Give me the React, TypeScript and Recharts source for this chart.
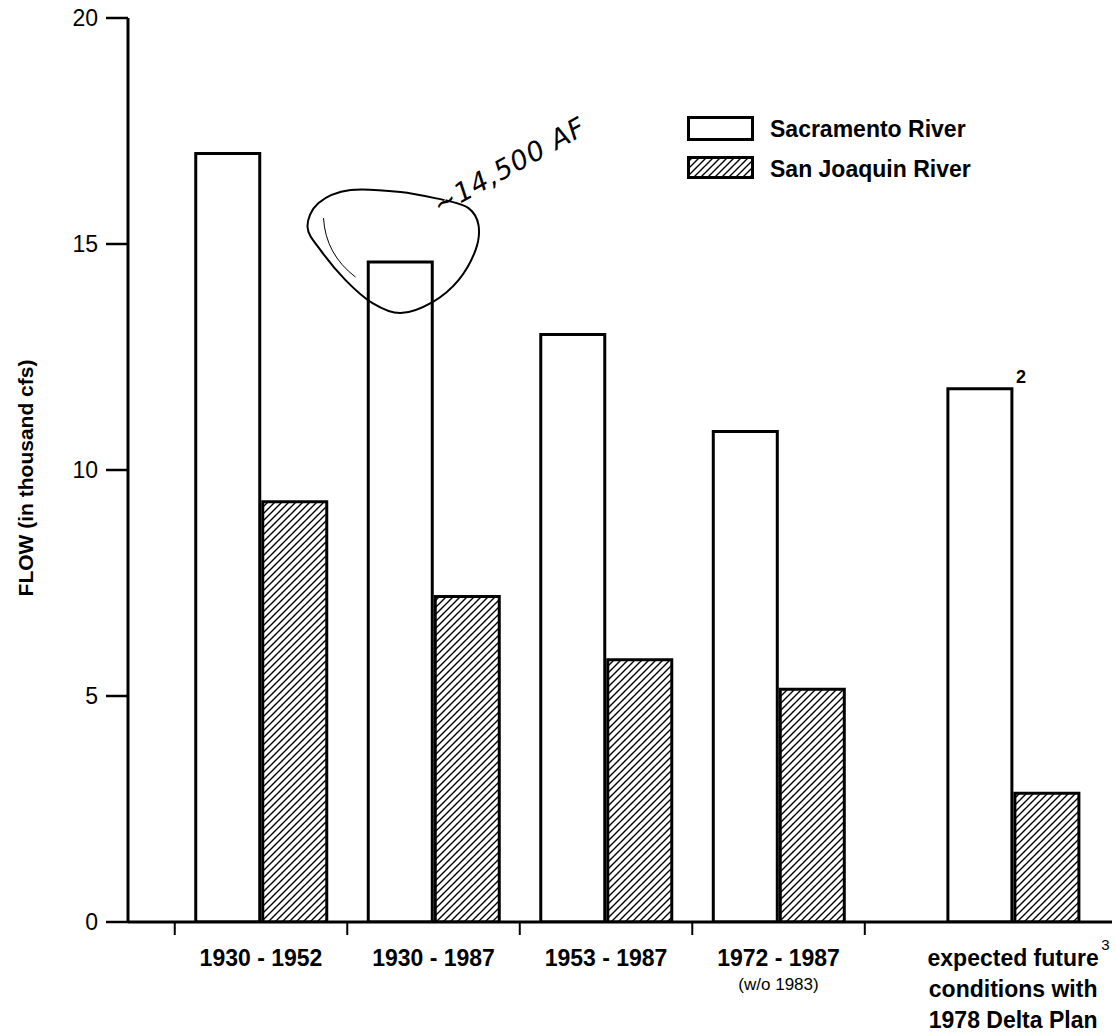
import {
  BarChart,
  Bar,
  XAxis,
  YAxis,
  Legend,
  LabelList,
  ReferenceDot,
  Label,
} from "recharts";

// periods on the x axis (multi-line labels)
const periodLines = [
  ["1930 - 1952"],
  ["1930 - 1987"],
  ["1953 - 1987"],
  ["1972 - 1987", "(w/o 1983)"],
  ["expected future", "conditions with", "1978 Delta Plan"],
];
// numeric slot of each period on the x axis (last group sits a bit further right)
const periodSlots = [1, 2, 3, 4, 5.36];
const periodBounds = [0.5, 1.5, 2.5, 3.5, 4.5];
const xDomain = [0.229, 5.933];

const sacramento = [17.0, 14.6, 13.0, 10.85, 11.8];
const sanJoaquin = [9.3, 7.2, 5.8, 5.15, 2.85];
const sacramentoNotes = ["", "", "", "", "2"];
const periodNotes = ["", "", "", "", "3"];

const yTicks = [0, 5, 10, 15, 20];
const seriesNames = ["Sacramento River", "San Joaquin River"];
const handNote = "~14,500 AF";

const FONT = "'Liberation Sans', Arial, Helvetica, sans-serif";

const data = periodSlots.map((slot, i) => ({
  slot,
  sacramento: sacramento[i],
  sanJoaquin: sanJoaquin[i],
}));

const PeriodTick = (props: any) => {
  const { x, y, payload } = props;
  const i = periodSlots.indexOf(payload.value);
  if (i < 0) return <g />;
  const lines = periodLines[i];
  return (
    <g>
      {lines.map((line, k) => {
        const small = line.startsWith("(");
        return (
          <text
            key={k}
            x={x}
            y={y + 30 + k * 31 - (small ? 7 : 0)}
            textAnchor="middle"
            fontFamily={FONT}
            fontWeight={small ? "normal" : "bold"}
            fontSize={small ? 17 : 23}
            fill="#000">
            {line}
          </text>
        );
      })}
      {periodNotes[i] && (
        <text
          x={x + 88}
          y={y + 14}
          fontFamily={FONT}
          fontSize={15}
          fill="#000">
          {periodNotes[i]}
        </text>
      )}
    </g>
  );
};

const SacNote = (props: any) => {
  const { x, y, width, index } = props;
  const note = sacramentoNotes[index];
  if (!note) return null;
  return (
    <text
      x={x + width + 4}
      y={y - 6}
      fontFamily={FONT}
      fontWeight="bold"
      fontSize={18}
      fill="#000">
      {note}
    </text>
  );
};

const YTitle = (props: any) => {
  const { viewBox } = props;
  const cx = viewBox.x + 25;
  const cy = viewBox.y + viewBox.height / 2 + 8;
  return (
    <text
      x={cx}
      y={cy}
      transform={`rotate(-90 ${cx} ${cy})`}
      textAnchor="middle"
      dominantBaseline="central"
      fontFamily={FONT}
      fontWeight="bold"
      fontSize={21}
      fill="#000">
      FLOW (in thousand cfs)
    </text>
  );
};

// smooth path through the handwritten loop points
const loopPoints = [
  [11, -62], [-33, -70], [-83, -72], [-115, -59], [-126, -35], [-113, -12],
  [-88, 18], [-61, 41], [-33, 51], [-1, 40], [25, 18], [42, -12],
  [45, -37], [35, -54], [12, -62],
];
const smoothPath = (pts: number[][], ox: number, oy: number) => {
  let d = `M${ox + pts[0][0]},${oy + pts[0][1]}`;
  for (let i = 0; i < pts.length - 1; i++) {
    const p0 = pts[Math.max(0, i - 1)];
    const p1 = pts[i];
    const p2 = pts[i + 1];
    const p3 = pts[Math.min(pts.length - 1, i + 2)];
    const c1x = p1[0] + (p2[0] - p0[0]) / 6;
    const c1y = p1[1] + (p2[1] - p0[1]) / 6;
    const c2x = p2[0] - (p3[0] - p1[0]) / 6;
    const c2y = p2[1] - (p3[1] - p1[1]) / 6;
    d += ` C${ox + c1x},${oy + c1y} ${ox + c2x},${oy + c2y} ${ox + p2[0]},${oy + p2[1]}`;
  }
  return d;
};

const HandNote = (props: any) => {
  const { cx, cy } = props;
  if (cx == null || cy == null) return null;
  const tx = cx + 6;
  const ty = cy - 47;
  return (
    <g>
      <path
        d={smoothPath(loopPoints, cx, cy)}
        fill="none"
        stroke="#000"
        strokeWidth={2}
      />
      <path
        d={`M${cx - 110},${cy - 44} Q${cx - 108},${cy - 8} ${cx - 78},${cy + 15}`}
        fill="none"
        stroke="#000"
        strokeWidth={1}
      />
      <text
        x={tx}
        y={ty}
        transform={`rotate(-29 ${tx} ${ty})`}
        fontFamily="'DejaVu Sans', sans-serif"
        fontStyle="italic"
        fontSize={27}
        letterSpacing={1}
        fill="#000">
        {handNote}
      </text>
    </g>
  );
};

const LegendBox = () => (
  <div style={{ fontFamily: FONT, fontWeight: "bold", fontSize: 23 }}>
    {seriesNames.map((name, i) => (
      <div
        key={name}
        style={{ display: "flex", alignItems: "center", height: 40 }}>
        <svg width={68} height={26} style={{ display: "block" }}>
          <rect
            x={1.5}
            y={1.5}
            width={64}
            height={i === 0 ? 22 : 20}
            fill={i === 0 ? "#fff" : "url(#hatch)"}
            stroke="#000"
            strokeWidth={3}
          />
        </svg>
        <span style={{ marginLeft: 15 }}>{name}</span>
      </div>
    ))}
  </div>
);

export default function App() {
  return (
    <div
      style={{
        position: "absolute",
        left: 0,
        top: 0,
        width: 1116,
        height: 1032,
        background: "#fff",
      }}>
      <svg width={0} height={0} style={{ position: "absolute" }}>
        <defs>
          <pattern
            id="hatch"
            patternUnits="userSpaceOnUse"
            width="7"
            height="7">
            <path
              d="M-1,1 l2,-2 M0,7 l7,-7 M6,8 l2,-2"
              stroke="#000"
              strokeWidth="1.4"
            />
          </pattern>
        </defs>
      </svg>
      <BarChart
        width={1116}
        height={1032}
        data={data}
        margin={{ top: 18, right: 4, bottom: 0, left: 0 }}
        barGap={3}>
        <XAxis
          xAxisId="bounds"
          type="number"
          dataKey="slot"
          domain={xDomain}
          allowDataOverflow
          ticks={periodBounds}
          interval={0}
          tick={() => <g />}
          tickSize={13}
          height={14}
          axisLine={{ stroke: "#000", strokeWidth: 3 }}
          tickLine={{ stroke: "#000", strokeWidth: 2 }}
        />
        <XAxis
          xAxisId="labels"
          type="number"
          dataKey="slot"
          domain={xDomain}
          allowDataOverflow
          ticks={periodSlots}
          interval={0}
          tick={<PeriodTick />}
          tickSize={0}
          tickMargin={0}
          height={96}
          axisLine={false}
          tickLine={false}
        />
        <YAxis
          domain={[0, 20]}
          ticks={yTicks}
          interval={0}
          allowDataOverflow
          width={128}
          tickSize={22}
          tickMargin={8}
          axisLine={{ stroke: "#000", strokeWidth: 3 }}
          tickLine={{ stroke: "#000", strokeWidth: 2.5 }}
          tick={{ fill: "#000", fontSize: 23, fontFamily: FONT }}>
          <Label content={<YTitle />} />
        </YAxis>
        <Legend
          layout="vertical"
          align="center"
          verticalAlign="middle"
          content={<LegendBox />}
          wrapperStyle={{ left: 687, top: 109, width: 340 }}
        />
        <Bar
          xAxisId="labels"
          dataKey="sacramento"
          name={seriesNames[0]}
          fill="#fff"
          stroke="#000"
          strokeWidth={3}
          barSize={64}
          isAnimationActive={false}>
          <LabelList dataKey="sacramento" content={<SacNote />} />
        </Bar>
        <Bar
          xAxisId="labels"
          dataKey="sanJoaquin"
          name={seriesNames[1]}
          fill="url(#hatch)"
          stroke="#000"
          strokeWidth={3}
          barSize={64}
          isAnimationActive={false}
        />
        <ReferenceDot
          xAxisId="labels"
          x={periodSlots[1]}
          y={sacramento[1]}
          ifOverflow="visible"
          shape={<HandNote />}
        />
      </BarChart>
    </div>
  );
}
